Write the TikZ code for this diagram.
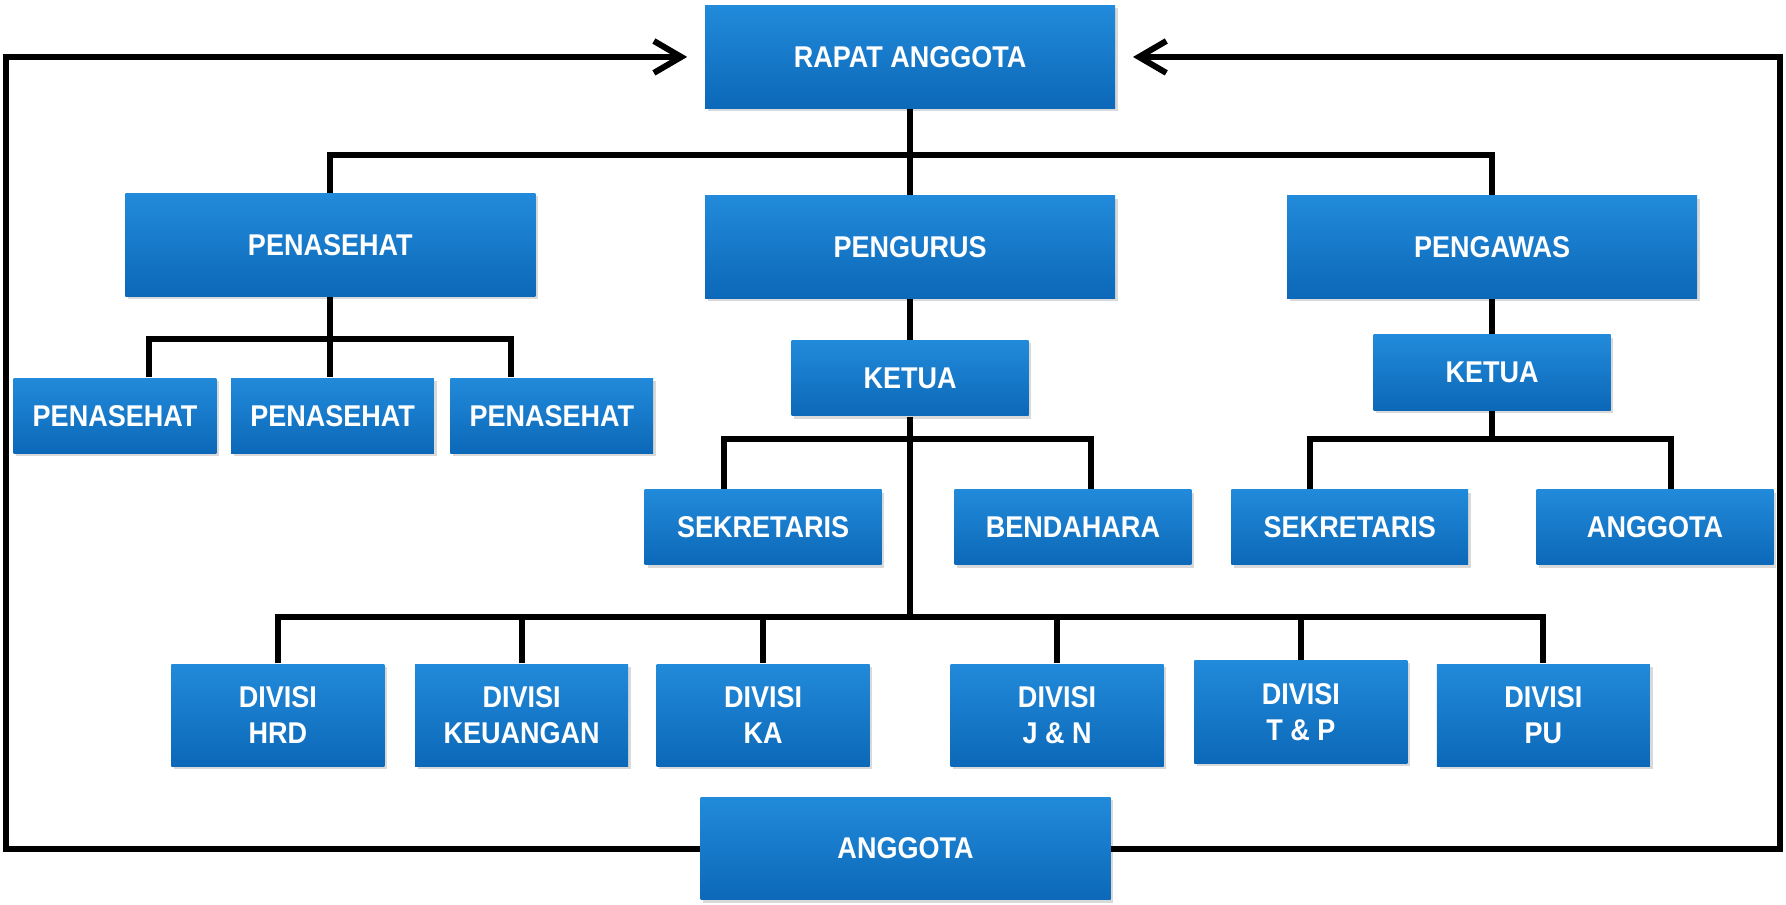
\documentclass[tikz,border=0pt]{standalone}
\usepackage{fontspec}
\setmainfont{Liberation Sans}[FakeStretch=0.9]
\usetikzlibrary{arrows.meta,shadows}
\definecolor{boxtop}{RGB}{34,138,218}
\definecolor{boxbottom}{RGB}{12,104,184}
\begin{document}
\begin{tikzpicture}[
        box/.style={rectangle, top color=boxtop, bottom color=boxbottom, draw=none,
            text=white, font=\fontsize{7.5}{9}\selectfont\bfseries, align=center, inner sep=0pt,
            drop shadow={shadow xshift=0.7pt, shadow yshift=-0.7pt, opacity=0.3}},
        bigbox/.style={box, minimum width=3.6cm, minimum height=0.9cm},
        midbox/.style={box, minimum width=2.08cm, minimum height=0.66cm},
        smallbox/.style={box, minimum width=1.78cm, minimum height=0.66cm},
        divbox/.style={box, minimum width=1.87cm, minimum height=0.9cm},
        link/.style={line width=1.5pt},
        feedback/.style={line width=1.5pt, -{Straight Barb[length=2.4mm, width=2.8mm]}, shorten >=1.5mm},
    ]
        \useasboundingbox (0, 0) rectangle (15.68, -7.94);

        \node[bigbox] (rapat) at (7.99, -0.50) {RAPAT ANGGOTA};
        \node[bigbox] (penasehat) at (2.90, -2.15) {PENASEHAT};
        \node[bigbox] (pengurus) at (7.99, -2.17) {PENGURUS};
        \node[bigbox] (pengawas) at (13.10, -2.17) {PENGAWAS};

        \node[smallbox] (ps1) at (1.01, -3.65) {PENASEHAT};
        \node[smallbox] (ps2) at (2.92, -3.65) {PENASEHAT};
        \node[smallbox] (ps3) at (4.845, -3.65) {PENASEHAT};

        \node[midbox] (ketua) at (7.99, -3.32) {KETUA};
        \node[midbox] (sekr) at (6.70, -4.63) {SEKRETARIS};
        \node[midbox] (bend) at (9.42, -4.63) {BENDAHARA};

        \node[midbox] (ketuaw) at (13.10, -3.27) {KETUA};
        \node[midbox] (sekrw) at (11.85, -4.63) {SEKRETARIS};
        \node[midbox] (anggw) at (14.53, -4.63) {ANGGOTA};

        \node[divbox] (hrd) at (2.44, -6.28) {DIVISI\\HRD};
        \node[divbox] (keu) at (4.58, -6.28) {DIVISI\\KEUANGAN};
        \node[divbox] (ka) at (6.70, -6.28) {DIVISI\\KA};
        \node[divbox] (jn) at (9.28, -6.28) {DIVISI\\J \& N};
        \node[divbox] (tp) at (11.42, -6.25) {DIVISI\\T \& P};
        \node[divbox] (pu) at (13.55, -6.28) {DIVISI\\PU};

        \node[bigbox] (anggota) at (7.95, -7.45) {ANGGOTA};

        % top level
        \draw[link] (rapat) -- (pengurus);
        \draw[link] (rapat.south) ++(0, -0.40) coordinate (topbus);
        \draw[link] (penasehat.north) |- (topbus) -| (pengawas.north);

        % penasehat
        \draw[link] (penasehat.south) -- ++(0, -0.37) coordinate (pbus);
        \draw[link] ([xshift=3mm]ps1.north) |- (pbus) -| ([xshift=-3.6mm]ps3.north);
        \draw[link] (pbus) -- (pbus |- ps2.north);

        % pengurus
        \draw[link] (pengurus) -- (ketua);
        \draw[link] (ketua.south) -- ++(0, -0.20) coordinate (kbus);
        \draw[link] ([xshift=-3.4mm]sekr.north) |- (kbus) -| ([xshift=1.6mm]bend.north);
        \draw[link] (kbus) -- (ketua.south |- 0, -5.42) coordinate (dbus);
        \draw[link] (hrd.north) |- (dbus) -| (pu.north);
        \foreach \d in {keu, ka, jn, tp}
            \draw[link] (\d.north) -- (\d.north |- dbus);

        % pengawas
        \draw[link] (pengawas) -- (ketuaw);
        \draw[link] (ketuaw.south) -- ++(0, -0.25) coordinate (wbus);
        \draw[link] ([xshift=-3.5mm]sekrw.north) |- (wbus) -| ([xshift=1.4mm]anggw.north);

        % anggota back to rapat
        \coordinate (cl) at (0.05, -0.50);
        \coordinate (cr) at (15.63, -0.50);
        \draw[feedback] (anggota.west) -| (cl) -- (rapat.west);
        \draw[feedback] (anggota.east) -| (cr) -- (rapat.east);
    \end{tikzpicture}
\end{document}
